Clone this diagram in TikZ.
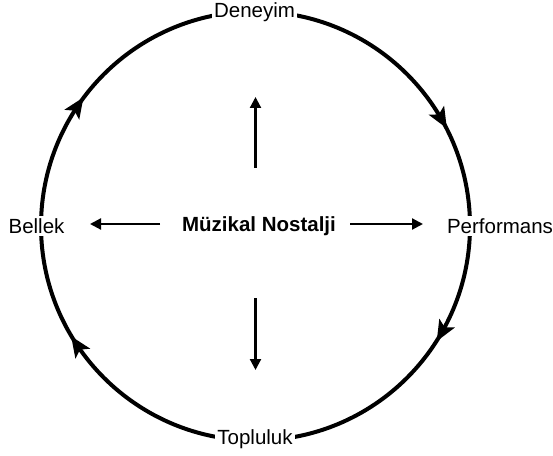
\documentclass[tikz,border=0pt]{standalone}
\usepackage{fontspec}
\setmainfont{Liberation Sans}
\usetikzlibrary{arrows.meta,decorations.markings}
\newcommand{\ringtipshape}{\fill (11pt,0pt) -- (-10pt,9pt) -- (-5pt,0pt) -- (-10pt,-9pt) -- cycle;}
\begin{document}
\begin{tikzpicture}[x=1pt,y=1pt,
  lbl/.style={fill=white,inner sep=2pt,font=\fontsize{20.5}{24}\selectfont},
  ring/.style={line width=4pt},
  spoke/.style={line width=2.2pt,-{Triangle[length=11pt,width=11pt]}}
]
\useasboundingbox (0,0) rectangle (553,455);
\coordinate (c) at (255.5,229);
% ring with clockwise arrowheads
\draw[ring,postaction={decorate},decoration={markings,
  mark=at position 0.1667 with {\ringtipshape},
  mark=at position 0.332 with {\ringtipshape},
  mark=at position 0.656 with {\ringtipshape},
  mark=at position 0.844 with {\ringtipshape}}]
  ([shift={(90:214.5)}]c) arc[start angle=90,end angle=-270,radius=214.5];
% labels
\node[lbl] (den) at (254.5,443) {Deneyim};
\node[lbl] (per) at (500,229) {Performans};
\node[lbl] (top) at (255,16) {Topluluk};
\node[lbl] (bel) at (36.5,229) {Bellek};
\node[font=\fontsize{20.5}{24}\selectfont\bfseries] (mid) at (259,229) {Müzikal Nostalji};
% spokes
\coordinate (u1) at (255.5,287); \coordinate (u2) at (255.5,358);
\coordinate (d1) at (255.5,157); \coordinate (d2) at (255.5,85);
\coordinate (l1) at (160,231); \coordinate (l2) at (90,231);
\coordinate (r1) at (350,231); \coordinate (r2) at (423,231);
\draw[spoke] (u1) -- (u2);
\draw[spoke] (d1) -- (d2);
\draw[spoke] (l1) -- (l2);
\draw[spoke] (r1) -- (r2);
\end{tikzpicture}
\end{document}
